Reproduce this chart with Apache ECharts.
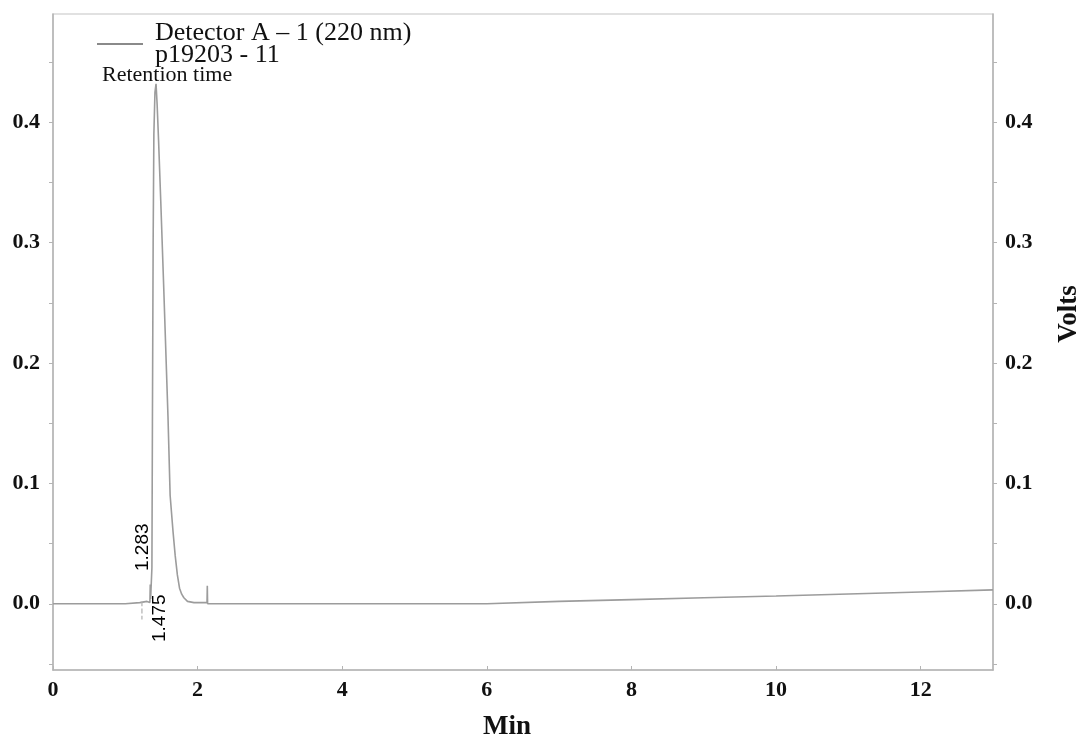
<!DOCTYPE html>
<html>
<head>
<meta charset="utf-8">
<script src="https://cdn.jsdelivr.net/npm/echarts@6/dist/echarts.min.js"></script>
<style>html,body{margin:0;padding:0;background:#fff;}#c{width:1087px;height:749px;}</style>
</head>
<body>
<div id="c"></div>
<script>
// Chromatogram trace: [time (min), signal (V)]
const traceTime = [0, 0.6, 1.0, 1.2, 1.3, 1.34, 1.345, 1.35, 1.362, 1.368, 1.375, 1.385, 1.395, 1.41, 1.425, 1.44, 1.46, 1.49, 1.53, 1.59, 1.62, 1.66, 1.69, 1.72, 1.75, 1.78, 1.81, 1.86, 1.95, 2.13, 2.134, 2.138, 3.0, 4.0, 5.0, 6.0, 7.0, 8.0, 9.0, 10.0, 11.0, 12.0, 13.0];
const traceVolts = [0.000, 0.000, 0.000, 0.001, 0.002, 0.001, 0.016, 0.004, 0.004, 0.03, 0.15, 0.30, 0.39, 0.425, 0.432, 0.415, 0.385, 0.335, 0.265, 0.156, 0.090, 0.060, 0.040, 0.024, 0.013, 0.008, 0.005, 0.002, 0.001, 0.001, 0.015, 0.000, 0.000, 0.000, 0.000, 0.000, 0.002, 0.0035, 0.005, 0.0065, 0.0082, 0.0098, 0.0116];
// Retention-time start marker (short dashed stroke below baseline)
const markerTime = [1.23, 1.23];
const markerVolts = [0.002, -0.013];
// Retention-time labels
const rtLabels = ['1.283', '1.475'];
const rtLabelTime = [1.235, 1.478];
const rtLabelVolts = [0.047, -0.012];
// Axis ticks
const xTicks = [0, 2, 4, 6, 8, 10, 12];
const yTicks = [0.0, 0.1, 0.2, 0.3, 0.4];
const yMinorTicks = [-0.05, 0.0, 0.05, 0.1, 0.15, 0.2, 0.25, 0.3, 0.35, 0.4, 0.45];
const seriesName = 'Detector A – 1 (220 nm)';
const seriesSub = 'p19203 - 11';

const chart = echarts.init(document.getElementById('c'));
const serif = '"Liberation Serif", "Times New Roman", serif';
const axisGray = '#b4b4b4';
const labelStyle = {color: '#111', fontFamily: serif, fontWeight: 'bold', fontSize: 22};

const yAxisBase = {
  type: 'value', min: -0.055, max: 0.49,
  splitLine: {show: false},
  axisLine: {show: true, lineStyle: {color: axisGray, width: 1.5}},
};

chart.setOption({
  animation: false,
  backgroundColor: '#fff',
  title: {
    text: 'Retention time', left: 102, top: 64, padding: 0,
    textStyle: {fontFamily: serif, fontWeight: 'normal', fontSize: 22, color: '#111'}
  },
  legend: {
    data: [seriesName], left: 97, top: 20, padding: 0, itemWidth: 46, itemHeight: 2, icon: 'rect',
    formatter: name => name + '\n' + seriesSub,
    textStyle: {fontFamily: serif, fontSize: 26, color: '#111', lineHeight: 22, padding: [0, 0, 0, 7]}
  },
  grid: {left: 53, right: 94, top: 14, bottom: 79, containLabel: false, outerBoundsMode: 'none',
         show: true, borderColor: '#c4c4c4', borderWidth: 1.2},
  xAxis: {
    type: 'value', min: 0, max: 13,
    name: 'Min', nameLocation: 'middle', nameGap: 44,
    nameTextStyle: {color: '#111', fontFamily: serif, fontWeight: 'bold', fontSize: 27, padding: [0, 32, 0, 0]},
    splitLine: {show: false},
    axisLine: {show: true, onZero: false, lineStyle: {color: axisGray, width: 1.5}},
    axisTick: {show: true, inside: true, length: 4, customValues: xTicks, lineStyle: {color: axisGray}},
    axisLabel: Object.assign({margin: 9, customValues: xTicks}, labelStyle)
  },
  yAxis: [
    Object.assign({}, yAxisBase, {
      position: 'left',
      axisTick: {show: true, length: 4, customValues: yMinorTicks, lineStyle: {color: axisGray}},
      axisLabel: Object.assign({margin: 13, customValues: yTicks, formatter: v => v.toFixed(1)}, labelStyle)
    }),
    Object.assign({}, yAxisBase, {
      position: 'right',
      name: 'Volts', nameLocation: 'middle', nameRotate: 90, nameGap: 63,
      nameTextStyle: {color: '#111', fontFamily: serif, fontWeight: 'bold', fontSize: 27, padding: [0, 0, 0, 56]},
      axisTick: {show: true, length: 4, customValues: yMinorTicks, lineStyle: {color: axisGray}},
      axisLabel: Object.assign({margin: 12, customValues: yTicks, formatter: v => v.toFixed(1)}, labelStyle)
    })
  ],
  series: [
    {
      name: seriesName, type: 'line', yAxisIndex: 0, showSymbol: false, symbol: 'none',
      data: traceTime.map((t, i) => [t, traceVolts[i]]),
      lineStyle: {color: '#9c9c9c', width: 1.6},
      itemStyle: {color: '#8a8a8a'}
    },
    {
      name: 'marker', type: 'line', yAxisIndex: 0, showSymbol: false, symbol: 'none',
      data: markerTime.map((t, i) => [t, markerVolts[i]]),
      lineStyle: {color: '#b0b0b0', width: 1.2, type: 'dashed'}
    },
    {
      name: 'rt', type: 'scatter', yAxisIndex: 0, symbolSize: 1,
      itemStyle: {opacity: 0},
      data: rtLabelTime.map((t, i) => [t, rtLabelVolts[i], rtLabels[i]]),
      label: {
        show: true, position: 'inside', rotate: 90, formatter: p => p.value[2],
        fontFamily: '"Liberation Sans", Arial, sans-serif', fontSize: 19, color: '#000', opacity: 1
      }
    }
  ]
});
</script>
</body>
</html>
